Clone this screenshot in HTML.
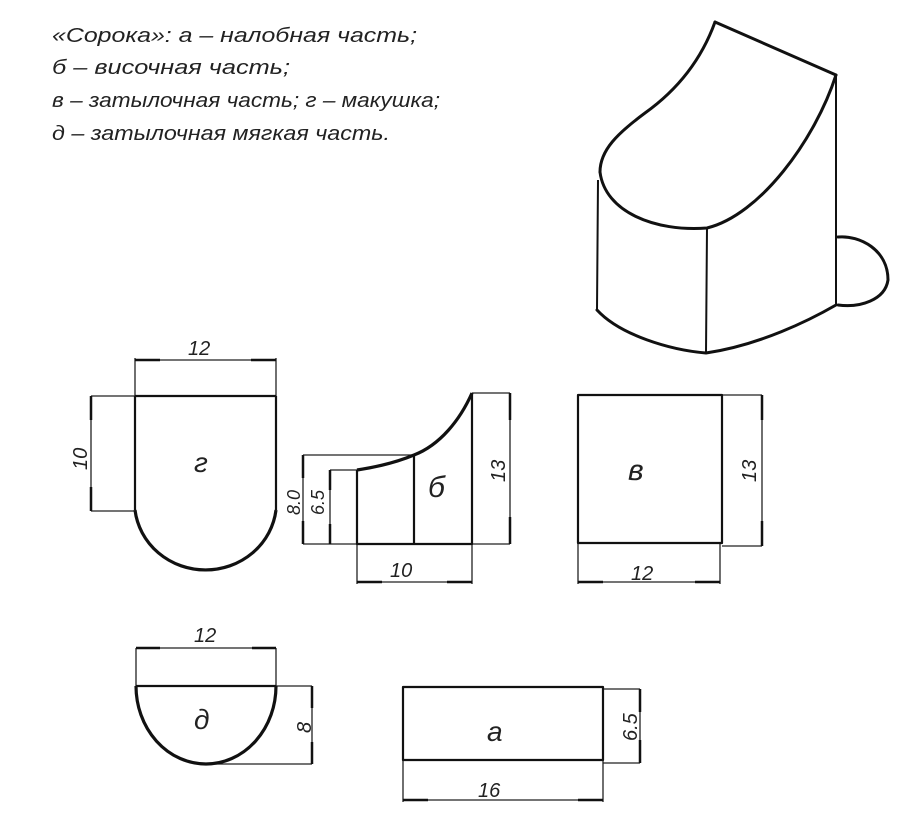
<!DOCTYPE html>
<html><head><meta charset="utf-8"><style>
html,body{margin:0;padding:0;background:#fff;width:898px;height:824px;overflow:hidden}
svg text{font-family:"Liberation Sans",sans-serif;font-style:italic;fill:#222}
</style></head><body>
<svg width="898" height="824" viewBox="0 0 898 824" xmlns="http://www.w3.org/2000/svg">
<g font-size="20">
<text x="52" y="42" textLength="365" lengthAdjust="spacingAndGlyphs">«Сорока»: а – налобная часть;</text>
<text x="52" y="74" textLength="238" lengthAdjust="spacingAndGlyphs">б – височная часть;</text>
<text x="52" y="107" textLength="388" lengthAdjust="spacingAndGlyphs">в – затылочная часть; г – макушка;</text>
<text x="52" y="140" textLength="338" lengthAdjust="spacingAndGlyphs">д – затылочная мягкая часть.</text>
</g>
<!-- 3D -->
<g fill="none" stroke="#111" stroke-width="3" stroke-linecap="round" stroke-linejoin="round">
<path d="M715,22 L836,75"/>
<path d="M715,22 C702,58 680,88 645,113 C618,133 600,150 600,172"/>
<path d="M600,172 C605,212 655,232 707,228 C760,215 815,140 836,75"/>
<path d="M597,310 C620,335 670,350 706,353 C760,345 810,320 836,305"/>
<path d="M838,237 C860,235 888,250 888,280 C885,300 860,308 838,305"/>
</g>
<g stroke="#111" stroke-width="2" fill="none">
<path d="M598,180 L597,310 M707,228 L706,353 M836,75 L836,305"/>
</g>
<!-- dimension thin lines -->
<g stroke="#222" stroke-width="1.3" fill="none">
<path d="M135,358 V396 M276,358 V396 M135,360 H276"/>
<path d="M91,396 H135 M91,511 H135 M91,396 V511"/>
<path d="M303,455 H414 M330,470 H357 M303,544 H357 M303,455 V544 M330,470 V544"/>
<path d="M472,393 H510 M472,544 H510 M510,393 V544"/>
<path d="M357,544 V584 M472,544 V584 M357,582 H472"/>
<path d="M722,395 H762 M722,546 H762 M762,395 V546"/>
<path d="M578,543 V584 M720,543 V584 M578,582 H720"/>
<path d="M136,648 V686 M276,648 V686 M136,648 H276"/>
<path d="M276,686 H312 M210,764 H312 M312,686 V764"/>
<path d="M603,689 H640 M603,763 H640 M640,689 V763"/>
<path d="M403,760 V802 M603,760 V802 M403,800 H603"/>
</g>
<!-- arrow marks -->
<g stroke="#111" stroke-width="2.5">
<path d="M135,360 H160 M251,360 H276 M91,396 V420 M91,487 V511"/>
<path d="M303,455 V478 M303,521 V544 M330,470 V490 M330,524 V544"/>
<path d="M510,393 V420 M510,517 V544 M357,582 H382 M447,582 H472"/>
<path d="M762,395 V420 M762,521 V546 M578,582 H603 M695,582 H720"/>
<path d="M136,648 H160 M252,648 H276 M312,686 V708 M312,742 V764"/>
<path d="M640,689 V712 M640,740 V763 M403,800 H428 M578,800 H603"/>
</g>
<!-- shapes -->
<g fill="none" stroke="#111" stroke-width="2.2" stroke-linejoin="round">
<path d="M135,396 H276 M135,396 V510 M276,396 V510"/>
<path d="M357,470 V544 H472 V393 M414,455 V544"/>
<rect x="578" y="395" width="144" height="148"/>
<path d="M136,686 H276"/>
<rect x="403" y="687" width="200" height="73"/>
</g>
<g fill="none" stroke="#111" stroke-width="3.2">
<path d="M135,510 A71,68 0 0 0 276,510"/>
<path d="M357,470 Q390,465 414,455 C440,445 460,420 472,393"/>
<path d="M136,686 A70,78 0 0 0 276,686"/>
</g>
<g font-size="20">
<text x="188" y="355">12</text>
<text x="194" y="642">12</text>
<text x="390" y="577">10</text>
<text x="631" y="580">12</text>
<text x="478" y="797">16</text>
<text font-size="28" x="194" y="472">г</text>
<text font-size="30" x="428" y="497">б</text>
<text font-size="30" x="628" y="480">в</text>
<text font-size="28" x="194" y="729">д</text>
<text font-size="28" x="487" y="741">а</text>
<text transform="translate(87,470) rotate(-90)">10</text>
<text transform="translate(300,515) rotate(-90)" font-size="18">8.0</text>
<text transform="translate(324,515) rotate(-90)" font-size="18">6.5</text>
<text transform="translate(505,482) rotate(-90)">13</text>
<text transform="translate(756,482) rotate(-90)">13</text>
<text transform="translate(311,733) rotate(-90)">8</text>
<text transform="translate(637,741) rotate(-90)">6.5</text>
</g>
</svg>
</body></html>
